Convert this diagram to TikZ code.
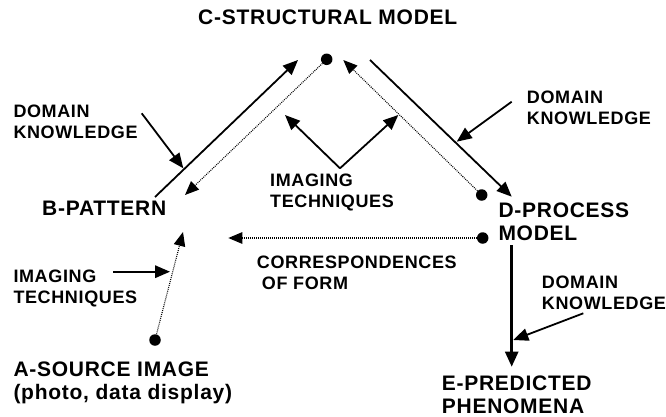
\documentclass[tikz,border=0pt]{standalone}
\usepackage{fontspec}
\setmainfont{Liberation Sans}[LetterSpace=3.5]
\usetikzlibrary{arrows.meta}

\tikzset{
  mainlabel/.style={anchor=north west, inner sep=0pt, align=left,
    font=\fontsize{21}{23.5}\selectfont\bfseries},
  sidelabel/.style={anchor=north west, inner sep=0pt, align=left,
    font=\fontsize{18}{21}\selectfont\bfseries},
  dotpt/.style={circle, fill=black, inner sep=0pt, minimum size=11.5pt},
  solidarrow/.style={line width=1.8pt, -{Triangle[length=15pt, width=12.5pt]}},
  heavyarrow/.style={line width=2.5pt, -{Triangle[length=15pt, width=13pt]}},
  dotarrow/.style={line width=1.1pt, dash pattern=on 0.9pt off 1.1pt,
    -{Triangle[length=14pt, width=11.5pt]}},
}

\begin{document}
\begin{tikzpicture}[x=1pt, y=-1pt]
\useasboundingbox (0,0) rectangle (666,417);

% labels
\node[mainlabel] (lblC) at (198,10) {C-STRUCTURAL MODEL};
\node[mainlabel] (lblB) at (42,201.2) {B-PATTERN};
\node[mainlabel] (lblD) at (498.3,202.2) {D-PROCESS\\MODEL};
\node[mainlabel] (lblA) at (13.3,361.2) {A-SOURCE IMAGE\\(photo, data display)};
\node[mainlabel] (lblE) at (441.7,375.2) {E-PREDICTED\\PHENOMENA};

\node[sidelabel] (dkL) at (13.3,105) {DOMAIN\\KNOWLEDGE};
\node[sidelabel] (dkR) at (526.7,91.2) {DOMAIN\\KNOWLEDGE};
\node[sidelabel] (dkE) at (541.7,276.2) {DOMAIN\\KNOWLEDGE};
\node[sidelabel] (itL) at (13.3,270) {IMAGING\\TECHNIQUES};
\node[sidelabel] (itM) at (270,174) {IMAGING\\TECHNIQUES};
\node[sidelabel] (cof) at (256.7,256.2) {CORRESPONDENCES\\\hspace{5pt}OF FORM};

% points
\node[dotpt] (dotC) at (326.7,59.3) {};
\node[dotpt] (dotD1) at (481.7,195) {};
\node[dotpt] (dotD2) at (482.7,238) {};
\node[dotpt] (dotA) at (155,340) {};

% free arrow ends
\coordinate (bcS) at (155,197);
\coordinate (bcE) at (298,60);
\coordinate (cbE) at (185,195);
\coordinate (cdS) at (370,60);
\coordinate (cdE) at (511.7,196.7);
\coordinate (dcE) at (343.3,60);
\coordinate (dkLs) at (141.7,113.3);
\coordinate (dkLe) at (183.3,168.3);
\coordinate (dkRs) at (511.7,101.7);
\coordinate (dkRe) at (456.7,141.7);
\coordinate (vtx) at (340,168.3);
\coordinate (vL) at (285,115);
\coordinate (vR) at (398.3,115);
\coordinate (abE) at (183,232);
\coordinate (itLs) at (113.3,271.7);
\coordinate (itLe) at (170,271.7);
\coordinate (cofE) at (228.3,238);
\coordinate (deS) at (511.7,245);
\coordinate (deE) at (511.7,366.7);
\coordinate (dkEs) at (583.3,313.3);
\coordinate (dkEe) at (513.3,340);

% pattern <-> structural model
\draw[solidarrow] (bcS) -- (bcE);
\draw[dotarrow] (dotC) -- (cbE);
\draw[solidarrow] (dkLs) -- (dkLe);

% structural model <-> process model
\draw[solidarrow] (cdS) -- (cdE);
\draw[dotarrow] (dotD1) -- (dcE);
\draw[solidarrow] (dkRs) -- (dkRe);

% imaging techniques feeding both sides
\draw[solidarrow] (vtx) -- (vL);
\draw[solidarrow] (vtx) -- (vR);

% source image to pattern
\draw[dotarrow] (dotA) -- (abE);
\draw[solidarrow] (itLs) -- (itLe);

% correspondences of form
\draw[dotarrow] (dotD2) -- (cofE);

% process model to predicted phenomena
\draw[heavyarrow] (deS) -- (deE);
\draw[solidarrow] (dkEs) -- (dkEe);
\end{tikzpicture}
\end{document}
